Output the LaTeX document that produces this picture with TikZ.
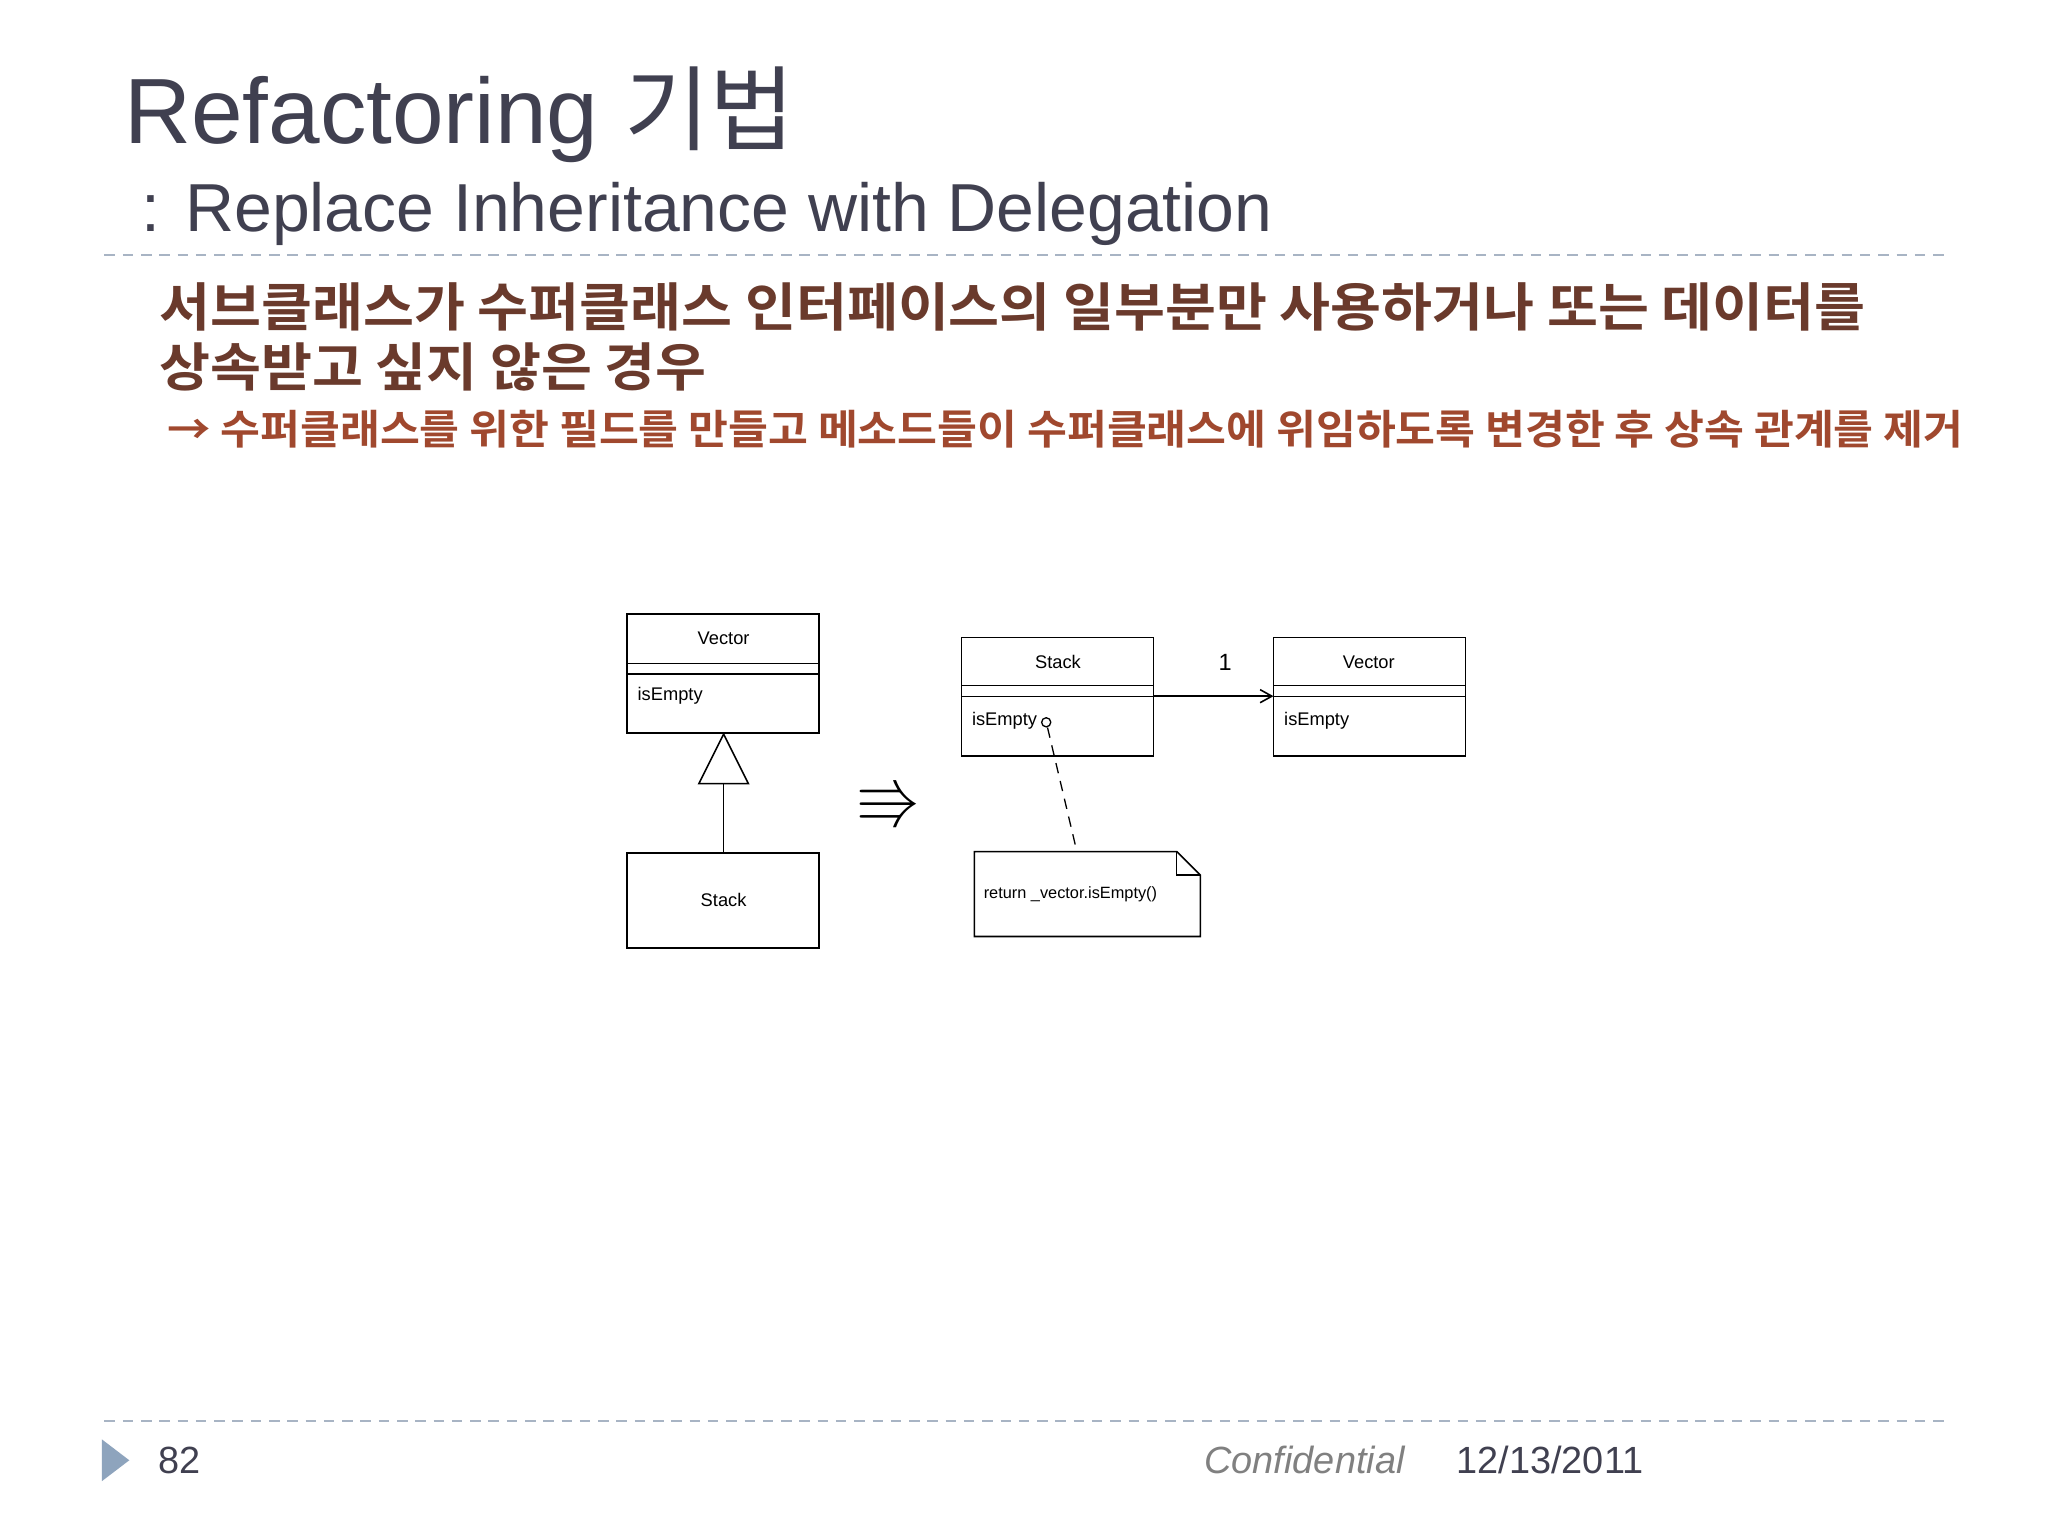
\documentclass[tikz,border=0pt]{standalone}
\usepackage{amssymb}
\usepackage{fontspec}
\setmainfont{Liberation Sans}
\newfontfamily\kr{Noto Sans CJK KR}
\newfontfamily\krb[FakeStretch=1.06]{Noto Sans CJK KR Bold}
\usetikzlibrary{arrows.meta}
\definecolor{ttl}{HTML}{404050}
\definecolor{brn}{HTML}{6A3A2C}
\definecolor{sien}{HTML}{A0482E}
\definecolor{dsh}{HTML}{A8B4C4}
\definecolor{tri}{HTML}{8EA4BD}
\tikzset{
 box/.style={draw,line width=1.2pt},
 lbl/.style={font=\fontsize{14}{16}\selectfont,inner sep=0pt},
}
\begin{document}
\begin{tikzpicture}[x=1pt,y=-1pt]
\fill[white!97!blue!1] (0,0) rectangle (1568,1176);
\useasboundingbox (0,0) rectangle (1568,1176);
\node[anchor=base west,inner sep=0,text=ttl,font=\fontsize{71}{74}\selectfont] (t) at (95,110) {Refactoring {\kr 기법}};
\node[anchor=base west,inner sep=0,text=ttl,font=\fontsize{52}{56}\selectfont] (st) at (108,177) {: Replace Inheritance with Delegation};
\draw[dsh,dashed,line width=1.3pt,dash pattern=on 8pt off 6pt] (80,195) -- (1490,195);
\node[anchor=base west,inner sep=0,text=brn,font=\krb\fontsize{40}{46}\selectfont] (k1) at (122,250) {서브클래스가 수퍼클래스 인터페이스의 일부분만 사용하거나 또는 데이터를};
\node[anchor=base west,inner sep=0,text=brn,font=\krb\fontsize{40}{46}\selectfont] (k2) at (122,296) {상속받고 싶지 않은 경우};
\node[anchor=base west,inner sep=0,text=sien,font=\krb\fontsize{31.3}{34}\selectfont] (k3) at (128,340) {→ 수퍼클래스를 위한 필드를 만들고 메소드들이 수퍼클래스에 위임하도록 변경한 후 상속 관계를 제거};
% left diagram
\draw[box] (480,470) rectangle (627,561);
\draw[line width=1pt] (480,508)--(627,508) (480,516)--(627,516);
\node[lbl] (v1) at (554,489) {Vector};
\node[lbl,anchor=west] (e1) at (488,533) {isEmpty};
\draw[box] (480,653) rectangle (627,726);
\node[lbl] (s1) at (554,689) {Stack};
\draw[line width=1.2pt] (554,653)--(554,600);
\draw[line width=1.2pt,fill=white] (554,562)--(573,600)--(535,600)--cycle;
\node[font=\fontsize{50}{50}\selectfont,inner sep=0] (arr) at (681,616) {$\Rrightarrow$};
% right diagram
\draw[box] (736,488) rectangle (883,579);
\draw[line width=1pt] (736,525)--(883,525) (736,533)--(883,533);
\node[lbl] (s2) at (810,507) {Stack};
\node[lbl,anchor=west] (e2) at (744,552) {isEmpty};
\draw[box] (975,488) rectangle (1122,579);
\draw[line width=1pt] (975,525)--(1122,525) (975,533)--(1122,533);
\node[lbl] (v2) at (1048,507) {Vector};
\node[lbl,anchor=west] (e3) at (983,552) {isEmpty};
\draw[line width=1.2pt,-{Straight Barb[length=9pt,width=10pt]}] (883,533)--(975,533);
\node[font=\fontsize{18}{18}\selectfont] (one) at (938,507) {1};
\draw[line width=1pt] (801,553) circle (3.5);
\draw[line width=1pt,dashed,dash pattern=on 8pt off 6pt] (802,557)--(824,650);
\draw[box,fill=white] (746,652)--(901,652)--(919,670)--(919,717)--(746,717)--cycle;
\draw[line width=1pt] (901,652)--(901,670)--(919,670);
\node[lbl,anchor=west,font=\fontsize{12.5}{14}\selectfont] (n) at (753,685) {return \_vector.isEmpty()};
% footer
\draw[dsh,dashed,line width=1.3pt,dash pattern=on 8pt off 6pt] (80,1088) -- (1490,1088);
\fill[tri] (78,1102)--(99,1118)--(78,1134)--cycle;
\node[anchor=base west,inner sep=0,text=ttl,font=\fontsize{29}{30}\selectfont] (pg) at (121,1128) {82};
\node[anchor=base west,inner sep=0,text=gray,font=\itshape\fontsize{29}{30}\selectfont] (cf) at (922,1128) {Confidential};
\node[anchor=base west,inner sep=0,text=ttl,font=\fontsize{29}{30}\selectfont] (dt) at (1115,1128) {12/13/2011};
\end{tikzpicture}
\end{document}
